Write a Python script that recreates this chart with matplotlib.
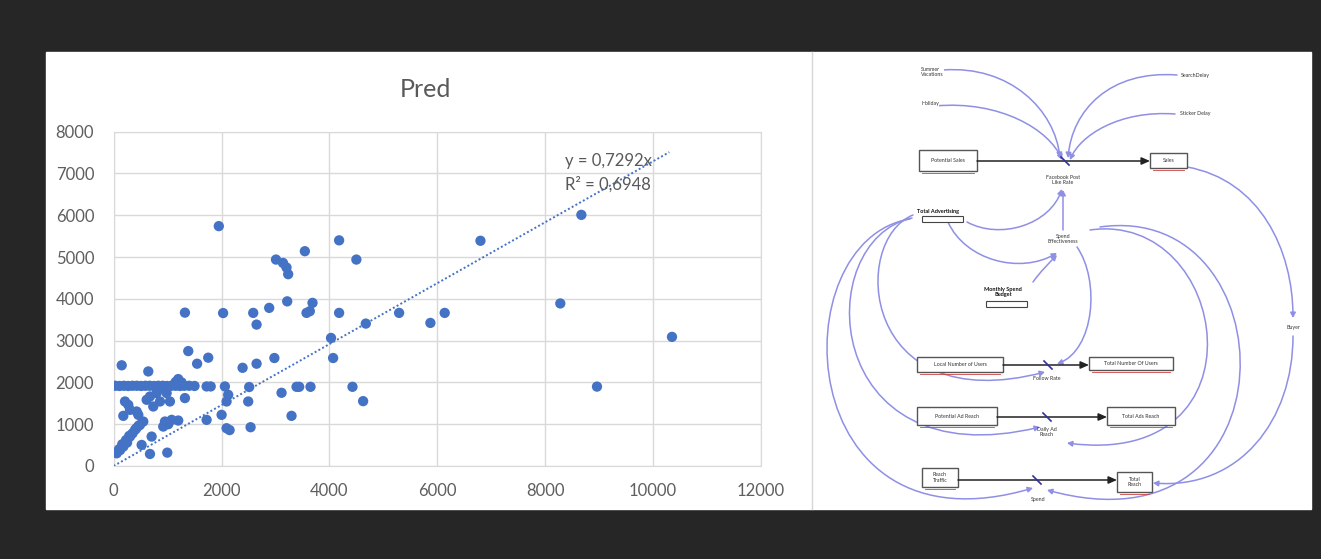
import matplotlib
matplotlib.use("Agg")
import matplotlib.pyplot as plt
from matplotlib.patches import Rectangle, FancyArrowPatch, FancyBboxPatch
from matplotlib.path import Path

plt.rcParams['font.family'] = ['Lato', 'DejaVu Sans']

# ---------------- data ----------------
title = "Pred"
x_ticks = [0, 2000, 4000, 6000, 8000, 10000, 12000]
y_ticks = [0, 1000, 2000, 3000, 4000, 5000, 6000, 7000, 8000]

x_vals = [1950, 4180, 3545, 4500, 3010, 3140, 3205, 3236, 6800, 8670, 8280, 8960, 10350,
          3218, 2884, 2588, 2650, 3576, 3687, 3637, 4180, 4030, 4069, 4675, 5292, 5872, 6137, 1322, 2030,
          2391, 2650, 2980, 2513, 2495, 2539, 3113, 3391, 3440, 3650, 3298, 4428, 4625,
          150, 643, 1384, 1548, 1754,
          30, 110, 190, 270, 350, 430, 510, 590, 670, 750, 830, 910, 990, 1070, 1150, 1230, 1310,
          1400, 1500, 1724, 1800, 2063,
          1198, 1150, 1260,
          1322, 2124, 2094, 2002, 2094, 2150, 1724,
          952, 1076, 1198, 920, 1013,
          705, 520, 674, 995,
          57, 180, 304, 396, 120, 250, 350, 100, 160, 230, 290, 420, 460,
          211, 304, 180, 458, 550, 613, 798, 920, 1044, 735, 860, 983, 674, 272, 489, 427]
y_vals = [5740, 5400, 5140, 4940, 4940, 4860, 4750, 4590, 5390, 6010, 3890, 1900, 3090,
          3940, 3784, 3664, 3384, 3664, 3904, 3704, 3664, 3064, 2584, 3408, 3664, 3424, 3664, 3670, 3660,
          2350, 2448, 2584, 1890, 1544, 928, 1752, 1895, 1895, 1895, 1200, 1895, 1552,
          2410, 2263, 2750, 2448, 2592,
          1920, 1915, 1920, 1915, 1920, 1920, 1915, 1920, 1920, 1915, 1920, 1920, 1915, 1920, 1920, 1915, 1920,
          1920, 1915, 1904, 1904, 1904,
          2080, 2010, 2000,
          1625, 1704, 1544, 1224, 904, 860, 1104,
          1064, 1104, 1088, 944, 1000,
          704, 504, 288, 320,
          304, 464, 704, 864, 380, 560, 780, 400, 520, 620, 720, 900, 960,
          1544, 1344, 1200, 1224, 1064, 1584, 1745, 1865, 1544, 1424, 1544, 1745, 1664, 1464, 984, 1304]

trend_slope = 0.7292
trend_x = [0, 10300]
eq_lines = ["y = 0,7292x", "R\u00b2 = 0,6948"]

# diagram (right panel) contents
stock_labels = ["Potential Sales", "Sales", "Local Number of Users", "Total Number Of Users",
                "Potential Ad Reach", "Total Ads Reach", "Reach\nTraffic", "Total\nReach"]
rate_labels = ["Facebook Post\nLike Rate", "Follow Rate", "Daily Ad\nReach", "Spend"]
aux_labels = ["Summer\nVacations", "Holiday", "SearchDelay", "Sticker Delay",
              "Spend\nEffectiveness", "Buyer"]
slider_labels = ["Total Advertising", "Monthly Spend\nBudget"]

# ---------------- layout ----------------
W, H = 1321, 559
fig = plt.figure(figsize=(W / 100, H / 100), dpi=100)

bg = fig.add_axes([0, 0, 1, 1])
bg.set_xlim(0, W)
bg.set_ylim(H, 0)
bg.axis('off')
bg.add_patch(Rectangle((0, 0), W, H, color='#262626', zorder=0))
bg.add_patch(Rectangle((46, 52), 1311 - 46, 509 - 52, color='white', zorder=1))
bg.plot([812, 812], [52, 509], color='#d6d6d6', lw=1, zorder=2)

# ---- scatter chart ----
L, R, T, B = 113.6, 761, 131.7, 466
ax = fig.add_axes([L / W, 1 - B / H, (R - L) / W, (B - T) / H])
ax.set_facecolor('none')
ax.set_xlim(0, 12000)
ax.set_ylim(0, 8000)
ax.set_xticks(x_ticks)
ax.set_yticks(y_ticks)
ax.set_xticklabels([str(v) for v in x_ticks])
ax.set_yticklabels([str(v) for v in y_ticks])
ax.grid(True, color='#d9d9d9', lw=1)
ax.set_axisbelow(True)
for s in ax.spines.values():
    s.set_color('#d9d9d9')
ax.tick_params(length=0, colors='#5f5f5f', labelsize=12)
ax.tick_params(axis='x', pad=12)
ax.tick_params(axis='y', pad=14)
ax.scatter(x_vals, y_vals, s=55, color='#4472C4', edgecolors='none', zorder=3)
ax.plot(trend_x, [trend_slope * v for v in trend_x], ls=(0, (1, 1.2)), color='#4472C4',
        lw=1.4, zorder=4)
ax.text(8360, 7303, eq_lines[0], fontsize=12, color='#595959', va='center', ha='left', zorder=5)
ax.text(8360, 6744, eq_lines[1], fontsize=12, color='#595959', va='center', ha='left', zorder=5)
fig.text(425 / W, 1 - 90 / H, title, fontsize=18, color='#595959', ha='center', va='center')

# ---- stock-and-flow diagram ----
curve_c = '#8f8fe6'
def curve(pts):
    p = Path(pts, [Path.MOVETO, Path.CURVE4, Path.CURVE4, Path.CURVE4])
    a = FancyArrowPatch(path=p, arrowstyle='-|>,head_length=3,head_width=1.6',
                        color=curve_c, lw=1.1, zorder=3)
    bg.add_patch(a)

curves = [
    [(943, 70), (1010, 65), (1055, 110), (1060, 158)],
    [(935, 106), (1000, 100), (1050, 130), (1062, 160)],
    [(1177, 75), (1110, 70), (1072, 110), (1068, 158)],
    [(1175, 114), (1120, 110), (1080, 135), (1070, 160)],
    [(967, 222), (1000, 240), (1050, 225), (1062, 189)],
    [(1063, 230), (1063, 215), (1063, 205), (1063, 190)],
    [(948, 222), (965, 260), (1020, 275), (1057, 253)],
    [(1033, 282), (1040, 272), (1050, 262), (1057, 255)],
    [(1077, 247), (1100, 280), (1095, 350), (1057, 364)],
    [(913, 215), (850, 240), (860, 420), (1045, 372)],
    [(912, 218), (810, 240), (820, 480), (1040, 427)],
    [(910, 219), (780, 240), (790, 560), (1033, 488)],
    [(1090, 230), (1230, 210), (1270, 470), (1067, 443)],
    [(1100, 227), (1290, 200), (1300, 560), (1047, 490)],
    [(1187, 167), (1260, 180), (1293, 250), (1293, 318)],
    [(1293, 336), (1293, 420), (1240, 490), (1153, 483)],
]
for pts in curves:
    curve(pts)

def stock(x0, y0, x1, y1, label):
    bg.add_patch(Rectangle((x0, y0), x1 - x0, y1 - y0, fc='white', ec='#555555', lw=1, zorder=4))
    bg.text((x0 + x1) / 2, (y0 + y1) / 2, label, fontsize=3.8, ha='center', va='center',
            color='#333333', zorder=5)
    bg.plot([x0 + 3, x1 - 3], [y1 + 1.5, y1 + 1.5], color='#d04040', lw=0.6, zorder=4)

stocks = [(919, 150, 977, 171), (1150, 153, 1187, 168), (917, 357, 1003, 372), (1089, 357, 1173, 370),
          (917, 407, 997, 425), (1107, 407, 1175, 425), (922, 468, 958, 487), (1117, 472, 1152, 492)]
for (x0, y0, x1, y1), lab in zip(stocks, stock_labels):
    stock(x0, y0, x1, y1, lab)

flows = [((977, 161), (1150, 161), (1065, 161), (1063, 180)),
         ((1003, 365), (1089, 365), (1048, 365), (1047, 378)),
         ((997, 417), (1107, 417), (1047, 417), (1047, 432)),
         ((958, 480), (1117, 480), (1037, 480), (1038, 500))]
for (a, b, v, lp), lab in zip(flows, rate_labels):
    bg.add_patch(FancyArrowPatch(a, b, arrowstyle='-|>,head_length=5,head_width=2.2',
                                 color='#222222', lw=1.1, zorder=4, shrinkA=0, shrinkB=0))
    bg.plot([v[0] - 4, v[0] + 4], [v[1] - 4, v[1] + 4], color='#3030a0', lw=1.2, zorder=5)
    bg.text(lp[0], lp[1], lab, fontsize=3.8, ha='center', va='center', color='#333333', zorder=5)

aux_pos = [(921, 72, 'left'), (921, 104, 'left'), (1195, 76, 'center'), (1195, 114, 'center'),
           (1063, 239, 'center'), (1293, 327, 'center')]
for (x, y, ha), lab in zip(aux_pos, aux_labels):
    bg.text(x, y, lab, fontsize=3.8, ha=ha, va='center', color='#333333', zorder=5,
            bbox=dict(fc='white', ec='none', pad=0.3))

slider_pos = [(938, 211, 923, 217), (1003, 292, 987, 302)]
for (tx, ty, sx, sy), lab in zip(slider_pos, slider_labels):
    bg.text(tx, ty, lab, fontsize=4, fontweight='bold', ha='center', va='center',
            color='#111111', zorder=5)
    bg.add_patch(FancyBboxPatch((sx, sy), 40, 5, boxstyle='round,pad=0.5', fc='white',
                                ec='#444444', lw=0.8, zorder=5))

fig.savefig('out.png', dpi=100)
